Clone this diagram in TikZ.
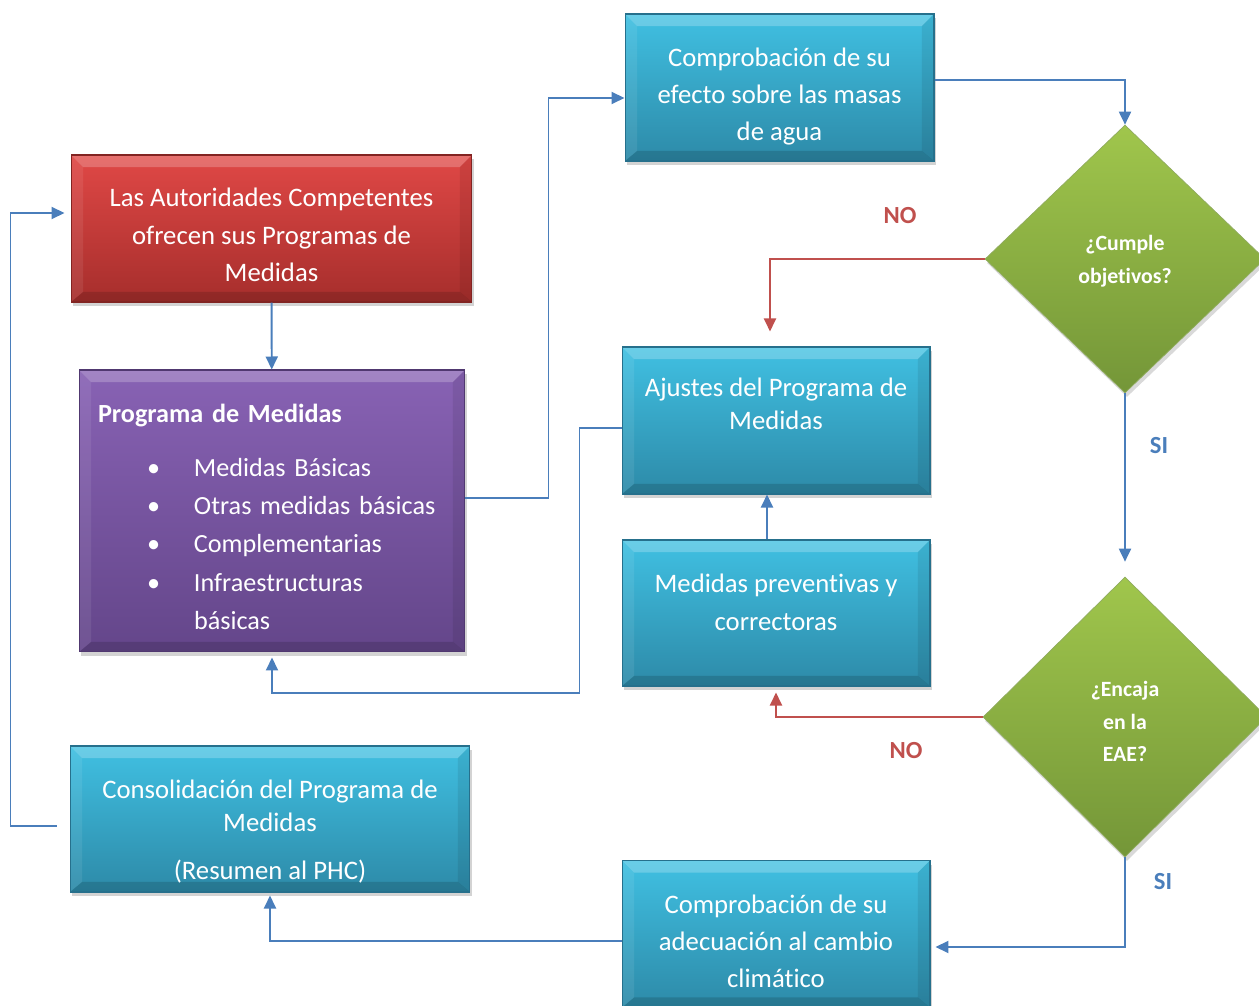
\documentclass[tikz,border=0pt]{standalone}
\usepackage{fontspec}
\setmainfont{Carlito}[Ligatures=NoCommon]
\usetikzlibrary{arrows.meta,shapes.geometric,shadows,calc}

\definecolor{boxtop}{RGB}{64,192,226}
\definecolor{boxbot}{RGB}{45,138,168}
\definecolor{boxedge}{RGB}{38,112,140}
\definecolor{redtop}{RGB}{224,72,70}
\definecolor{redbot}{RGB}{166,46,44}
\definecolor{rededge}{RGB}{130,36,34}
\definecolor{purtop}{RGB}{136,98,180}
\definecolor{purbot}{RGB}{100,70,138}
\definecolor{puredge}{RGB}{80,56,112}
\definecolor{greentop}{RGB}{160,198,76}
\definecolor{greenbot}{RGB}{116,150,56}
\definecolor{linkblue}{RGB}{74,126,187}
\definecolor{linkred}{RGB}{192,80,77}

% invisible strut that pushes the first text line down
\newcommand{\firstline}[1]{\rule{0pt}{#1}}

\tikzset{
    bevel/.style={path picture={
        \fill[white,opacity=.22] (path picture bounding box.north west) -- (path picture bounding box.north east)
            -- ([shift={(-0.24cm,-0.24cm)}]path picture bounding box.north east)
            -- ([shift={(0.24cm,-0.24cm)}]path picture bounding box.north west) -- cycle;
        \fill[white,opacity=.08] (path picture bounding box.north west) -- ([shift={(0.24cm,-0.24cm)}]path picture bounding box.north west)
            -- ([shift={(0.24cm,0.2cm)}]path picture bounding box.south west) -- (path picture bounding box.south west) -- cycle;
        \fill[black,opacity=.08] (path picture bounding box.north east) -- ([shift={(-0.24cm,-0.24cm)}]path picture bounding box.north east)
            -- ([shift={(-0.24cm,0.2cm)}]path picture bounding box.south east) -- (path picture bounding box.south east) -- cycle;
        \fill[black,opacity=.14] (path picture bounding box.south west) -- (path picture bounding box.south east)
            -- ([shift={(-0.24cm,0.2cm)}]path picture bounding box.south east)
            -- ([shift={(0.24cm,0.2cm)}]path picture bounding box.south west) -- cycle;
    }},
    box/.style={rectangle, draw=boxedge, line width=0.6pt, top color=boxtop, bottom color=boxbot,
        text=white, align=center, inner sep=0pt, font=\fontsize{15.2}{21.2}\selectfont,
        drop shadow={opacity=.35, shadow xshift=0.04cm, shadow yshift=-0.08cm}, bevel},
    redbox/.style={box, draw=rededge, top color=redtop, bottom color=redbot},
    purplebox/.style={box, draw=puredge, top color=purtop, bottom color=purbot, align=left},
    cond/.style={diamond, aspect=1, inner sep=0pt, draw=greenbot!80!white, top color=greentop, bottom color=greenbot,
        text=white, align=center, font=\bfseries\fontsize{12.4}{18.6}\selectfont,
        drop shadow={opacity=.3, shadow xshift=0.04cm, shadow yshift=-0.08cm}},
    link/.style={draw=linkblue, line width=1.1pt, -{Triangle[length=0.26cm,width=0.24cm]}},
    nolink/.style={link, draw=linkred},
    sitext/.style={text=linkblue, font=\bfseries\fontsize{14}{16}\selectfont},
    notext/.style={text=linkred, font=\bfseries\fontsize{14}{16}\selectfont}
}

\begin{document}
\begin{tikzpicture}[x=0.02cm,y=-0.02cm]
    \useasboundingbox (0,0) rectangle (1259,1006);
    \clip (0,0) rectangle (1259,1006);

    % left column
    \node[redbox, minimum width=8.02cm, minimum height=2.94cm] at (271.5,228.5) (aut)
        {\firstline{18pt}Las Autoridades Competentes\\ofrecen sus Programas de\\Medidas};
    \node[purplebox, minimum width=7.72cm, minimum height=5.64cm, text width=6.96cm,
        font=\fontsize{14.9}{21.7}\selectfont] at (272,511) (prog)
        {\firstline{17pt}\textbf{Programa de Medidas}\\[0.32cm]
         \hspace*{0.98cm}\makebox[0.94cm][l]{\textbullet}Medidas Básicas\\
         \hspace*{0.98cm}\makebox[0.94cm][l]{\textbullet}Otras medidas básicas\\
         \hspace*{0.98cm}\makebox[0.94cm][l]{\textbullet}Complementarias\\
         \hspace*{0.98cm}\makebox[0.94cm][l]{\textbullet}Infraestructuras\\
         \hspace*{1.92cm}básicas};
    \node[box, minimum width=8.0cm, minimum height=2.92cm, font=\fontsize{15.2}{18.7}\selectfont] at (270,819) (consol)
        {\firstline{25pt}Consolidación del Programa de\\Medidas\\[0.32cm](Resumen al PHC)};

    % middle column
    \node[box, minimum width=6.18cm, minimum height=2.94cm] at (779.5,87.5) (efecto)
        {\firstline{21pt}Comprobación de su\\efecto sobre las masas\\de agua};
    \node[box, minimum width=6.16cm, minimum height=2.94cm, font=\fontsize{15.2}{18.7}\selectfont] at (776,420.5) (ajustes)
        {Ajustes del Programa de\\Medidas\\\mbox{}};
    \node[box, minimum width=6.16cm, minimum height=2.92cm] at (776,613) (prev)
        {\firstline{19.6pt}Medidas preventivas y\\correctoras\\\mbox{}};
    \node[box, minimum width=6.16cm, minimum height=2.94cm] at (776,934) (cambio)
        {\firstline{19pt}Comprobación de su\\adecuación al cambio\\climático};

    % decisions
    \node[cond, minimum width=5.6cm, minimum height=5.36cm] at (1125,259) (cumple)
        {\firstline{11pt}¿Cumple\\objetivos?};
    \node[cond, minimum width=5.68cm, minimum height=5.6cm] at (1125,717) (encaja)
        {\firstline{14pt}¿Encaja\\en la\\EAE?};

    \node[notext] at (900,216) (no1) {NO};
    \node[sitext] at (1159,446) (si1) {SI};
    \node[notext] at (906,751) (no2) {NO};
    \node[sitext] at (1163,882) (si2) {SI};

    % connectors
    \draw[link] (aut) -- (prog);
    \draw[link] ([yshift=0.26cm]prog.east) -- ++(83,0) |- ([yshift=-0.21cm]efecto.west);
    \draw[link] ([yshift=0.15cm]efecto.east) -| (cumple.north);
    \draw[nolink] (cumple.west) -| ([xshift=-0.12cm,yshift=0.3cm]ajustes.north);
    \draw[link] (cumple.south) -- ([yshift=0.3cm]encaja.north);
    \draw[link] ([yshift=-0.15cm]ajustes.west) -- ++(-42,0) -- ++(0,265) -| ([yshift=-0.1cm]prog.south);
    \draw[link] ([xshift=-0.18cm]prev.north) -- ([xshift=-0.18cm]ajustes.south);
    \draw[nolink] (encaja.west) -| ([yshift=-0.12cm]prev.south);
    \draw[link] (encaja.south) |- ([xshift=0.1cm,yshift=-0.26cm]cambio.east);
    \draw[link] ([yshift=-0.14cm]cambio.west) -| ([yshift=-0.06cm]consol.south);
    \draw[link] ([xshift=-0.26cm,yshift=-0.14cm]consol.west) -- ++(-46,0) |- ([xshift=-0.12cm,yshift=0.31cm]aut.west);
\end{tikzpicture}
\end{document}
